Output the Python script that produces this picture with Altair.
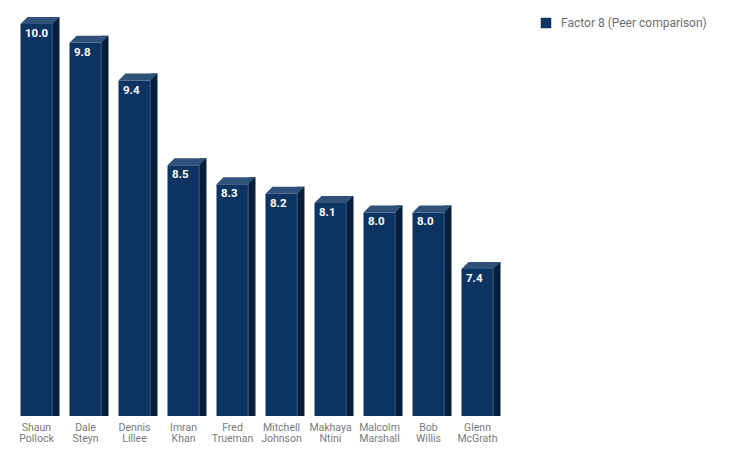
import altair as alt
import pandas as pd

players = ["Shaun Pollock", "Dale Steyn", "Dennis Lillee", "Imran Khan", "Fred Trueman",
           "Mitchell Johnson", "Makhaya Ntini", "Malcolm Marshall", "Bob Willis", "Glenn McGrath"]
scores = [10.0, 9.8, 9.4, 8.5, 8.3, 8.2, 8.1, 8.0, 8.0, 7.4]
series_name = "Factor 8 (Peer comparison)"

Y_MIN, Y_MAX = 5.84, 10.17

df = pd.DataFrame({"player": players, "score": scores, "series": series_name})
df["base"] = Y_MIN
df["label"] = df["score"].map(lambda v: f"{v:.1f}")

FRONT = "#0c3462"
SIDE = "#071f3b"
TOP = "#30517a"

x = alt.X("player:N", sort=players, title=None,
          scale=alt.Scale(paddingInner=0, paddingOuter=0),
          axis=alt.Axis(labelAngle=0, labelExpr="split(datum.label, ' ')",
                        labelColor="#7a7a7a", labelFont="Roboto", labelFontSize=10.5,
                        labelLineHeight=11, labelPadding=6, ticks=False, domain=False))
yscale = alt.Scale(domain=[Y_MIN, Y_MAX], zero=False, nice=False)
y = alt.Y("score:Q", scale=yscale, axis=None)

base = alt.Chart(df)

front = base.mark_bar(width=32, color=FRONT).encode(
    x=x, y=y, y2="base:Q",
    color=alt.Color("series:N", scale=alt.Scale(range=[FRONT]),
                    legend=alt.Legend(title=None, orient="none", legendX=528, legendY=9,
                                      symbolType="square", symbolSize=110,
                                      symbolStrokeWidth=0, labelColor="#6e6e6e",
                                      labelFont="Roboto", labelFontSize=12,
                                      labelOffset=9)))
edge = base.mark_bar(width=1, xOffset=15.5, color="#24507f").encode(x=x, y=y, y2="base:Q")
side = base.mark_bar(width=7, xOffset=19.5, yOffset=-7, color=SIDE).encode(x=x, y=y, y2="base:Q")
cap = base.mark_point(shape="M -0.8 0 L 0.8 0 L 1.15 -0.35 L -0.45 -0.35 Z",
                      size=1600, filled=True, opacity=1, strokeWidth=0, color=TOP).encode(x=x, y=y)
labels = base.mark_text(align="left", baseline="top", dx=-11.5, dy=4, color="white",
                        font="Roboto", fontWeight="bold", fontSize=11.5).encode(x=x, y=y, text="label:N")

chart = alt.layer(front, edge, side, cap, labels).properties(
    width=490, height=408,
    autosize=alt.AutoSizeParams(type="none"),
    padding={"left": 4, "top": 0, "right": 221, "bottom": 29},
).configure(font="Roboto").configure_view(strokeWidth=0, stroke="transparent")

chart.save("out.html", embed_options={"renderer": "svg", "actions": False})
